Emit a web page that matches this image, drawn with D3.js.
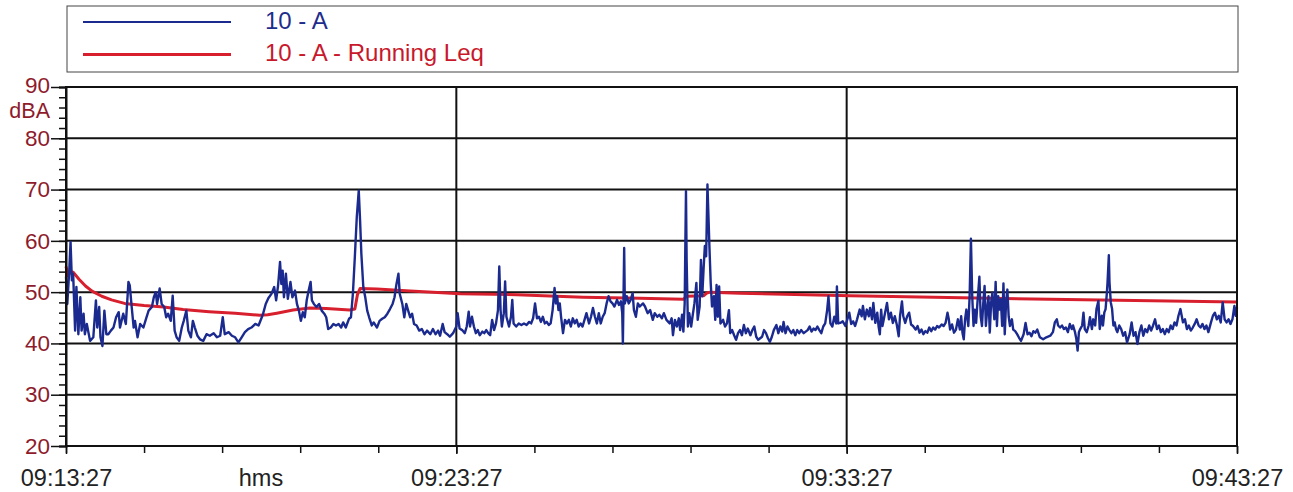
<!DOCTYPE html>
<html>
<head>
<meta charset="utf-8">
<script src="https://cdn.jsdelivr.net/npm/d3@7"></script>
<style>
  html, body { margin: 0; padding: 0; background: #fff; }
  svg { display: block; font-family: "Liberation Sans", Arial, sans-serif; }
</style>
</head>
<body>
<svg id="chart" width="1293" height="492"></svg>
<script>
// ---------------- DATA ----------------
const seriesNames = ["10 - A", "10 - A - Running Leq"];
const xTickLabels = ["09:13:27", "09:23:27", "09:33:27", "09:43:27"];
const xTickSeconds = [0, 600, 1200, 1800];
const xUnitLabel = "hms";
const yTickValues = [20, 30, 40, 50, 60, 70, 80, 90];
const yUnitLabel = "dBA";

// Blue series: seconds after 09:13:27 and level (dBA)
const levelTimes = [
0,2,5,7,9,11,14,16,19,22,24,27,29,32,37,42,46,48,51,53,56,59,62,65,69,73,77,81,83,88,92,96,98,101,104,106,110,114,119,123,127,132,135,138,140,144,147,151,154,157,161,164,167,170,174,178,181,185,188,192,195,198,202,206,211,216,221,227,232,237,241,244,250,255,260,265,270,275,280,285,291,296,301,
303,307,311,316,320,323,326,329,331,333,335,338,341,345,348,352,355,358,361,364,367,370,373,376,378,381,385,389,393,397,400,403,407,411,415,419,423,426,430,435,438,441,444,447,450,452,454,457,460,463,466,470,473,478,482,486,490,494,498,502,505,508,511,513,517,520,523,526,529,532,535,539,543,547,551,555,560,564,568,572,575,579,582,586,
590,595,600,602,605,609,613,616,619,621,624,627,630,633,636,640,643,646,649,652,655,658,661,664,666,668,670,673,675,677,681,684,686,688,692,696,700,704,708,712,715,718,721,724,727,730,733,736,739,742,745,748,751,753,755,757,759,761,764,767,770,773,776,779,782,785,788,791,794,797,800,804,807,810,813,816,819,822,825,828,831,834,837,840,843,847,850,853,855,856,858,859,862,865,868,871,873,876,879,
882,887,890,894,898,902,905,909,912,916,919,923,928,931,933,936,939,942,944,947,949,951,953,954,956,958,961,963,966,969,971,974,976,978,980,982,984,986,989,991,993,996,998,1000,1002,1004,1006,1010,1013,1016,1019,1021,1024,1027,1030,1033,1036,1039,1042,1045,1048,1052,1055,1058,1061,1064,1067,1070,1073,1076,1079,1082,1085,1088,1092,1095,1098,1101,1103,1106,1109,1112,1115,1118,1121,1124,1127,1130,1134,1137,1140,1143,1146,1149,1152,1155,1158,1161,1164,1167,1170,1172,1175,1178,1181,1184,1185,1187,
1190,1194,1198,1201,1204,1207,1210,1213,1216,1220,1223,1225,1228,1231,1234,1236,1239,1241,1244,1247,1249,1251,1253,1255,1258,1262,1265,1268,1271,1274,1277,1280,1282,1285,1287,1290,1293,1296,1299,1302,1306,1309,1312,1315,1318,1321,1324,1327,1330,1333,1336,1339,1342,1346,1349,1352,1355,1357,1359,1362,1365,1368,1371,1374,1376,1378,1380,1382,1384,1387,1389,1391,1393,1395,1397,1399,1401,1404,1406,1408,1410,1412,1414,1416,1418,1420,1422,1424,1427,1429,1431,1433,1435,1437,1439,1441,1443,1445,1447,1449,1451,1454,1456,1459,1462,1465,1468,1472,1475,1478,1481,1484,1487,1490,1493,
1497,1502,1507,1513,1517,1520,1523,1525,1528,1531,1534,1537,1540,1543,1546,1548,1551,1553,1555,1557,1559,1562,1564,1566,1569,1572,1574,1577,1579,1582,1584,1587,1589,1592,1594,1596,1598,1600,1601,1603,1604,1606,1608,1610,1612,1614,1616,1619,1622,1625,1628,1631,1635,1638,1641,1644,1647,1650,1653,1656,1659,1662,1665,1668,1671,1674,1677,1680,1683,1686,1689,1692,1695,1698,1701,1704,1707,1710,1713,1717,1720,1723,1726,1729,1732,1735,1738,1741,1744,1747,1750,1753,1756,1760,1763,1766,1769,1772,1775,1778,1781,1784,1787,1790,1793,1796,1798,1800
];
const levelValues = [
53,47.7,54.2,59.8,52.3,53.6,42.5,51,41.8,49,42.5,45.8,41.8,43.8,40.5,41.2,48.4,43.1,47.1,41.2,39.5,46.4,41.8,41.8,42.5,43.1,45.1,46.1,43.1,45.8,43.8,52,51.3,47.1,43.1,44.4,41.2,43.8,43.1,44.8,46.4,47.1,49,50,47.7,50.7,47.7,47.1,45.1,45.8,44.4,49.3,42.5,41.2,40.5,43.1,44.4,46.4,42.5,41.2,44.4,43.1,41.5,40.8,40.5,41.8,41.5,42,41.2,41.5,45.1,41.8,42.2,41.5,41.2,40.2,41.2,42.2,42.8,43.1,43.8,43.5,45.1,
45.8,47.7,48.8,49.7,51,48.4,51.3,55.9,51.6,54.2,49,53.6,48.7,52,49,50.3,47.7,46.4,44.4,46.1,45.1,48.4,50.3,52,48.4,47.7,47.1,47.7,46.4,45.8,45.1,42.8,43.1,43.8,43.5,43.8,43.1,44.1,43.1,44.8,45.1,49.7,56.9,64.7,69.8,64.1,57.5,51,49,46.4,45.1,43.5,44.1,43.1,44.4,44.8,45.1,45.8,46.7,47.7,49,51.6,53.6,49.7,47.7,45.1,47.7,46.4,45.1,45.8,43.8,43.5,42.5,42.8,41.8,42.5,41.8,42.8,41.8,42.5,41.5,43.8,42.2,41.8,
41.3,42,43.3,45.9,42.9,42.6,42,43.3,46.2,43.3,45.2,43.3,42,42.6,41.6,42.3,42,42.6,42,41.6,44.6,42.6,43.9,46.5,55,46.5,43.3,45.9,52.1,45.2,43.3,45.2,48.5,43.9,43.3,43.9,43.6,43.9,43.6,44.2,43.9,44.9,47.8,44.9,45.2,44.2,45.2,43.9,44.2,43.6,43.9,46.5,50.8,47.8,49.2,46.5,47.8,45.2,42,44.6,43.9,44.6,43.3,44.9,43.9,44.6,43.3,43.9,43.3,44.6,45.9,43.9,45.2,46.9,45.2,43.9,45.9,43.9,45.2,45.9,47.8,49.2,48.2,47.8,47.2,48.5,47.5,48.2,45.9,40,58.6,47.8,49.2,47.8,48.5,49.8,46.5,45.2,47.8,
47.2,47.8,47.2,45.9,46.5,44.6,45.9,45.2,45.6,44.9,45.9,44.6,43.9,44.9,41.6,44.6,43.3,44.9,42.6,45.6,42.3,47.8,69.7,56.3,43.3,45.9,43.3,45.2,47.8,51.8,44.6,47.2,56.3,49.2,54.4,59,57,71,59,51.8,47.2,49.2,44.6,51.4,45.2,51.1,43.9,44.6,43.3,43.9,46.5,42,42.6,41.6,40.7,42,42.6,41.6,43.6,42,42.9,41.6,42.6,43.3,41.3,40.7,41,41.3,42.6,42,41,40.3,41.3,42.6,43.6,42,43.3,42.3,44.2,42,43.3,42.6,42,42.6,41.6,42.6,42,42.6,42,42.3,42.6,43.3,42.3,42.9,42.6,43.3,42.6,42,43.3,43.9,46.5,49.2,43.9,43.3,45.2,43.9,51.1,43.9,
44,44.3,43.4,44.7,46,43.8,44.3,43.4,44.7,46.6,45.3,47.3,44.7,46.6,45.3,46.9,44.7,47.9,44,46,43.4,41.8,46.6,43.4,45.3,47.9,44.7,46,44,45.3,43.7,41.4,45.3,48.2,45.3,44,45.3,46,43.7,43.4,42.7,43.4,42.1,42.7,41.8,42.4,42.1,43.1,42.4,43.1,42.7,43.4,43.1,43.7,43.4,44,46,44.7,42.7,43.7,42.1,42.7,44.7,42.7,45.3,42.1,40.8,44.7,46.6,43.4,49.2,60.4,49.2,43.4,46.6,44,47.9,53,45.3,43.4,47.9,51.2,43.4,46.6,49.2,42.1,47.9,49.9,44.7,52,43.4,49.2,46.6,48.6,43.4,51.7,41.8,47.9,50.5,45.3,43.4,44.7,42.7,42.4,41.8,41.1,40.5,41.8,44,41.8,42.1,41.4,42.4,42.1,42.7,
41.2,40.8,41.2,41.5,42.2,44.1,44.7,43.5,43.1,43.5,42.8,43.1,42.2,43.8,42.8,43.5,42.2,40.9,38.6,42.2,42.8,43.5,46,42.8,42.2,43.5,45.1,42.8,44.7,43.5,46.7,48.3,42.8,45.4,43.5,46,46.7,49.9,51.9,57.2,51.9,48,46.7,43.5,44.1,42.8,42.2,43.5,42.8,41.5,42.2,40.2,41.8,44.1,41.5,42.2,39.9,42.2,43.5,41.5,42.8,42.2,43.5,42.5,43.5,44.7,42.8,43.5,42.2,42.8,41.8,42.8,42.2,43.5,42.8,44.1,43.5,45.4,46.7,44.1,44.7,42.8,43.5,42.5,43.1,43.8,44.7,43.5,43.1,43.8,42.8,43.5,42.2,44.1,45.4,46,44.7,45.4,44.1,48,44.7,44.1,44.7,43.8,44.7,47.3,45.4,47
];

// Red series: running Leq
const leqTimes  = [0,3,7,11,20,30,40,55,70,90,120,150,180,220,260,298,310,324,349,375,400,436,444,448,452,478,529,606,693,795,882,949,954,980,985,990,1036,1205,1512,1800];
const leqValues = [55,53.2,54,53.9,52.5,51.2,50.2,49.2,48.5,47.8,47.4,47.1,46.6,46.2,45.9,45.5,45.6,45.9,46.5,46.9,46.8,46.5,46.7,49.5,50.7,50.6,50.2,49.7,49.5,49.0,48.8,48.6,49.2,49.3,49.8,50.0,49.8,49.3,48.6,48.1];

// ---------------- CHART ----------------
const svg = d3.select("#chart");
const plot = { left: 66, right: 1237, top: 87, bottom: 446 };

const x = d3.scaleLinear().domain([0, 1800]).range([plot.left, plot.right]);
const y = d3.scaleLinear().domain([20, 90]).range([plot.bottom, plot.top]);

const blueColor = "#1b2a8e";
const redColor = "#d81f2e";
const axisRed = "#8e1b2b";
const ink = "#111";
const FONT = "Liberation Sans, Arial, sans-serif";

// Legend
const legend = svg.append("g");
legend.append("rect")
  .attr("x", 67).attr("y", 6).attr("width", 1171).attr("height", 66)
  .attr("fill", "none").attr("stroke", "#444").attr("stroke-width", 1);
const legendItems = [
  { name: seriesNames[0], color: blueColor, width: 2, text: "#1f2d8c" },
  { name: seriesNames[1], color: redColor, width: 3, text: "#c8182c" }
];
legendItems.forEach((d, i) => {
  const cy = 22 + i * 32.5;
  legend.append("line").attr("x1", 83).attr("x2", 231).attr("y1", cy).attr("y2", cy)
    .attr("stroke", d.color).attr("stroke-width", d.width);
  legend.append("text").attr("x", 265).attr("y", cy + 6.5).attr("font-size", 24)
    .attr("font-family", FONT).attr("fill", d.text).text(d.name);
});

// Grid
const grid = svg.append("g");
grid.selectAll("line.h").data(yTickValues.filter(v => v > 20 && v < 90)).enter()
  .append("line")
  .attr("x1", plot.left).attr("x2", plot.right)
  .attr("y1", d => y(d)).attr("y2", d => y(d))
  .attr("stroke", ink).attr("stroke-width", 2);
grid.selectAll("line.v").data(xTickSeconds.filter(v => v > 0 && v < 1800)).enter()
  .append("line")
  .attr("x1", d => x(d)).attr("x2", d => x(d))
  .attr("y1", plot.top).attr("y2", plot.bottom)
  .attr("stroke", ink).attr("stroke-width", 2);

// Series lines
const line = d3.line().x(d => x(d[0])).y(d => y(d[1]));
svg.append("path")
  .datum(leqTimes.map((t, i) => [t, leqValues[i]]))
  .attr("d", line)
  .attr("fill", "none").attr("stroke", redColor).attr("stroke-width", 3)
  .attr("stroke-linejoin", "round");
svg.append("path")
  .datum(levelTimes.map((t, i) => [t, levelValues[i]]))
  .attr("d", line)
  .attr("fill", "none").attr("stroke", blueColor).attr("stroke-width", 2.4)
  .attr("stroke-linejoin", "round");

// Frame
svg.append("rect")
  .attr("x", plot.left).attr("y", plot.top)
  .attr("width", plot.right - plot.left).attr("height", plot.bottom - plot.top)
  .attr("fill", "none").attr("stroke", ink).attr("stroke-width", 2);

// Y axis
const yMinor = d3.axisLeft(y).tickValues(d3.range(20, 91, 2)).tickSize(7).tickFormat("");
svg.append("g").attr("transform", `translate(${plot.left},0)`).call(yMinor)
  .call(g => g.select(".domain").attr("stroke", ink).attr("stroke-width", 2))
  .call(g => g.selectAll(".tick line").attr("stroke", ink).attr("stroke-width", 1.5));
const yMajor = d3.axisLeft(y).tickValues(yTickValues).tickSize(15).tickPadding(1);
svg.append("g").attr("transform", `translate(${plot.left},0)`).call(yMajor)
  .call(g => g.select(".domain").remove())
  .call(g => g.selectAll(".tick line").attr("stroke", ink).attr("stroke-width", 1.5))
  .call(g => g.selectAll(".tick text").attr("fill", axisRed).attr("font-size", 22.5)
    .attr("font-family", FONT))
  .call(g => g.selectAll(".tick").filter(d => d === 90).select("text").attr("y", -2));
svg.append("text").attr("x", 50).attr("y", 117.5).attr("text-anchor", "end")
  .attr("font-size", 21.5).attr("font-family", FONT).attr("fill", axisRed).text(yUnitLabel);

// X axis
const xMinor = d3.axisBottom(x).tickValues(d3.range(0, 1801, 120)).tickSize(7).tickFormat("");
svg.append("g").attr("transform", `translate(0,${plot.bottom})`).call(xMinor)
  .call(g => g.select(".domain").remove())
  .call(g => g.selectAll(".tick line").attr("stroke", ink).attr("stroke-width", 1.5));
const xMajor = d3.axisBottom(x).tickValues(xTickSeconds).tickSize(8).tickPadding(15)
  .tickFormat((d, i) => xTickLabels[i]);
svg.append("g").attr("transform", `translate(0,${plot.bottom})`).call(xMajor)
  .call(g => g.select(".domain").remove())
  .call(g => g.selectAll(".tick line").attr("stroke", ink).attr("stroke-width", 1.5))
  .call(g => g.selectAll(".tick text").attr("fill", "#222").attr("font-size", 23.5)
    .attr("font-family", FONT));
svg.append("text").attr("x", 261).attr("y", 486).attr("text-anchor", "middle")
  .attr("font-size", 23.5).attr("font-family", FONT).attr("fill", "#222").text(xUnitLabel);
</script>
</body>
</html>
